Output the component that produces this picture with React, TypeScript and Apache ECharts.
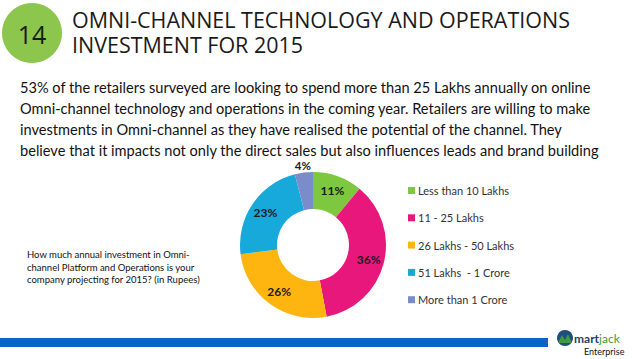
import React, { useEffect, useRef } from "react";
import * as echarts from "echarts";

const categories = [
  "Less than 10 Lakhs",
  "11 - 25 Lakhs",
  "26 Lakhs - 50 Lakhs",
  "51 Lakhs  - 1 Crore",
  "More than 1 Crore",
];
const values = [11, 36, 26, 23, 4];
const colors = ["#7DC83F", "#E8177C", "#FFB50F", "#18A9DB", "#7A8CC9"];

const slideNumber = "14";
const titleLines = ["OMNI-CHANNEL TECHNOLOGY AND OPERATIONS", "INVESTMENT FOR 2015"];
const paragraph = [
  "53% of the retailers surveyed are looking to spend more than 25 Lakhs annually on online",
  "Omni-channel technology and operations in the coming year. Retailers are willing to make",
  "investments in Omni-channel as they have realised the potential of the channel. They",
  "believe that it impacts not only the direct sales but also influences leads and brand building",
];
const question = [
  "How much annual investment in Omni-",
  "channel Platform and Operations is your",
  "company projecting for 2015? (in Rupees)",
];

export default function App() {
  const ref = useRef<HTMLDivElement>(null);
  useEffect(() => {
    if (!ref.current) return;
    const chart = echarts.init(ref.current, null, { renderer: "svg" });
    const graphics: any[] = [
      { type: "circle", shape: { cx: 32, cy: 33, r: 30 }, style: { fill: "#8DC64C" } },
      {
        type: "text",
        x: 32,
        y: 34,
        style: { text: slideNumber, fill: "#1a1a1a", fontSize: 25, fontFamily: "Open Sans", align: "center", verticalAlign: "middle" },
      },
      ...titleLines.map((t, i) => ({
        type: "text",
        x: 72,
        y: 19 + i * 24.5,
        scaleX: 0.955,
        style: { text: t, fill: "#1a1a1a", fontSize: 22.5, fontFamily: "Open Sans", verticalAlign: "middle" },
      })),
      ...paragraph.map((t, i) => ({
        type: "text",
        x: 20,
        y: 87.5 + i * 21,
        style: { text: t, fill: "#111", fontSize: 14.6, lineHeight: 15, fontFamily: "Lato", verticalAlign: "middle" },
      })),
      ...question.map((t, i) => ({
        type: "text",
        x: 27,
        y: 254.5 + i * 12.7,
        style: { text: t, fill: "#111", fontSize: 9.5, fontFamily: "Lato", verticalAlign: "middle" },
      })),
      { type: "rect", shape: { x: 0, y: 338, width: 548, height: 9 }, style: { fill: "#0A64C8" } },
      { type: "circle", shape: { cx: 565, cy: 338, r: 8 }, style: { fill: "#1F4F7A" } },
      { type: "polygon", shape: { points: [[558, 343], [562, 335], [565, 340], [568, 334], [572, 343]] }, style: { fill: "#3E9B3E" } },
      {
        type: "text",
        x: 574,
        y: 338,
        style: { rich: { a: { fill: "#1F3F66", fontWeight: "bold", fontSize: 12, fontFamily: "Lato" }, b: { fill: "#3E9B3E", fontSize: 12, fontFamily: "Lato" } }, text: "{a|mart}{b|jack}", verticalAlign: "middle" },
      },
      {
        type: "text",
        x: 584,
        y: 351,
        style: { text: "Enterprise", fill: "#111", fontSize: 9, fontFamily: "Lato", verticalAlign: "middle" },
      },
    ];
    chart.setOption({
      animation: false,
      color: colors,
      legend: {
        orient: "vertical",
        left: 403,
        top: 180,
        itemWidth: 7,
        itemHeight: 7,
        itemGap: 16.3,
        icon: "rect",
        textStyle: { fontSize: 11, color: "#333", fontFamily: "Lato", padding: [0, 0, 0, -2] },
        data: categories,
      },
      graphic: graphics,
      series: [
        {
          type: "pie",
          center: [313, 245],
          radius: [36, 73],
          startAngle: 90,
          clockwise: true,
          label: {
            show: true,
            position: "inside",
            formatter: "{c}%",
            fontSize: 12,
            fontWeight: "bold",
            color: "#1a1a1a",
            fontFamily: "Lato",
          },
          labelLine: { show: false },
          labelLayout: (p: any) => (p.dataIndex === 4 ? { align: "center", verticalAlign: "middle" } : {}),
          data: categories.map((name, i) => ({
            name,
            value: values[i],
            ...(i === 4
              ? { label: { position: "outside", distanceToLabelLine: 0, fontSize: 11.5, lineHeight: 12 }, labelLine: { show: false, length: 7.6, length2: 0 } }
              : {}),
          })),
        },
      ],
    });
    return () => chart.dispose();
  }, []);
  return <div ref={ref} style={{ position: "fixed", left: 0, top: 0, width: 638, height: 359, background: "#fff" }} />;
}
